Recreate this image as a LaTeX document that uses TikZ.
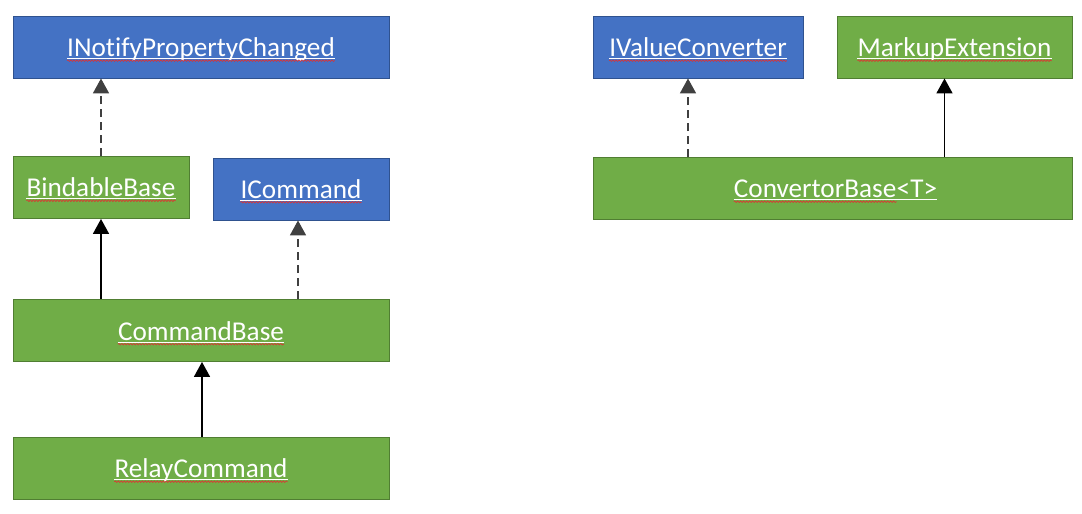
\documentclass[tikz,border=0pt]{standalone}
\usepackage{fontspec}
\setmainfont{Carlito}[Ligatures=CommonOff]
\usetikzlibrary{arrows.meta,decorations.pathmorphing}
\definecolor{ifblue}{HTML}{4472C4}
\definecolor{ifline}{HTML}{2F528F}
\definecolor{clgreen}{HTML}{70AD47}
\definecolor{clline}{HTML}{507E32}
\definecolor{tipgrey}{HTML}{404040}
\definecolor{squig}{HTML}{E03030}

\tikzset{
  box/.style={draw, line width=0.9pt, minimum height=62pt, inner sep=0pt},
  iface/.style={box, draw=ifline, fill=ifblue},
  cls/.style={box, draw=clline, fill=clgreen},
  txt/.style={inner sep=0pt, text=white, font=\fontsize{27.2}{30}\selectfont},
  impl/.style={tipgrey, line width=1.8pt, dash pattern=on 8pt off 5pt,
    -{Triangle[width=16pt,length=15pt]}},
  inh/.style={black, line width=1.8pt, -{Triangle[width=16pt,length=15pt]}},
  uline/.style={white, line width=1.2pt},
  spell/.style={squig, line width=0.6pt, decorate,
    decoration={snake, amplitude=0.8pt, segment length=3pt}}
}

\begin{document}
\begin{tikzpicture}[x=1pt,y=-1pt]
\useasboundingbox (0,0) rectangle (1082,514);

% boxes
\node[iface, minimum width=376pt] (inpc) at (201,47) {};
\node[cls, minimum width=176pt] (bb) at (101,187.5) {};
\node[iface, minimum width=176pt] (icmd) at (301,189) {};
\node[cls, minimum width=376pt] (cb) at (201,330.5) {};
\node[cls, minimum width=376pt] (rc) at (201,468) {};
\node[iface, minimum width=210pt] (ivc) at (698,47) {};
\node[cls, minimum width=235pt] (me) at (954.5,47) {};
\node[cls, minimum width=479pt] (cvb) at (832.5,188.5) {};

% labels
\node[txt, anchor=base] (inpc-t) at ([yshift=-9.5pt]inpc.center) {INotifyPropertyChanged};
\node[txt, anchor=base] (bb-t) at ([yshift=-9pt]bb.center) {BindableBase};
\node[txt, anchor=base] (icmd-t) at ([yshift=-9pt]icmd.center) {ICommand};
\node[txt, anchor=base] (cb-t) at ([yshift=-9.5pt]cb.center) {CommandBase};
\node[txt, anchor=base] (rc-t) at ([yshift=-9.5pt]rc.center) {RelayCommand};
\node[txt, anchor=base] (ivc-t) at ([yshift=-9.5pt]ivc.center) {IValueConverter};
\node[txt, anchor=base] (me-t) at ([yshift=-9.5pt]me.center) {MarkupExtension};
\node[txt, anchor=base east] (cvb-t) at ([xshift=64pt,yshift=-9pt]cvb.center) {ConvertorBase};
\node[txt, anchor=base west] (cvb-g) at (cvb-t.base east) {<T>};

% underlines
\foreach \n in {inpc,bb,icmd,cb,rc,ivc,me,cvb}{
  \draw[spell] ([yshift=-4.2pt]\n-t.base west) -- ([yshift=-4.2pt]\n-t.base east);
}
\foreach \n in {inpc,bb,icmd,cb,rc,ivc,me}{
  \draw[uline] ([yshift=-2.2pt]\n-t.base west) -- ([yshift=-2.2pt]\n-t.base east);
}
\draw[uline] ([yshift=-2.2pt]cvb-t.base west) -- ([yshift=-2.2pt]cvb-g.base east);

% connectors
\draw[impl] (bb.north) -- (bb.north |- inpc.south);
\draw[inh] (cb.north -| bb.south) -- (bb.south);
\draw[impl] ([xshift=-3pt]cb.north -| icmd.south) -- ([xshift=-3pt]icmd.south);
\draw[inh] ([xshift=1pt]rc.north) -- ([xshift=1pt]cb.south);
\draw[impl] ([xshift=-10pt]cvb.north -| ivc.south) -- ([xshift=-10pt]ivc.south);
\draw[inh] ([xshift=-10pt]cvb.north -| me.south) -- ([xshift=-10pt]me.south);
\end{tikzpicture}
\end{document}
